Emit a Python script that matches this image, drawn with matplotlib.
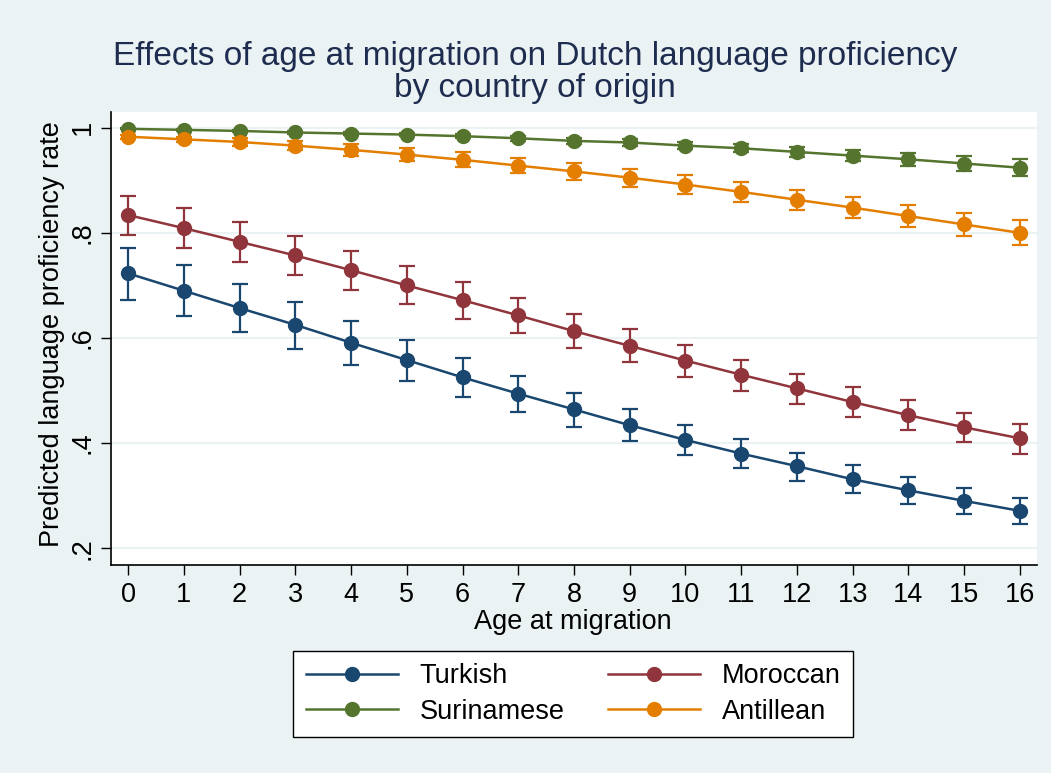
import matplotlib
matplotlib.use("Agg")
import matplotlib.pyplot as plt

plt.rcParams['font.family'] = ['Liberation Sans', 'DejaVu Sans']

ages = list(range(0, 17))

turkish = [0.723, 0.690, 0.657, 0.625, 0.591, 0.558, 0.525, 0.494, 0.464, 0.434, 0.406, 0.380, 0.356, 0.331, 0.310, 0.290, 0.271]
turkish_lo = [0.672, 0.642, 0.611, 0.579, 0.549, 0.518, 0.488, 0.459, 0.431, 0.404, 0.377, 0.352, 0.328, 0.305, 0.284, 0.265, 0.246]
turkish_hi = [0.772, 0.738, 0.703, 0.668, 0.633, 0.597, 0.562, 0.528, 0.496, 0.465, 0.434, 0.408, 0.381, 0.358, 0.335, 0.314, 0.295]

moroccan = [0.834, 0.809, 0.783, 0.757, 0.729, 0.700, 0.672, 0.643, 0.613, 0.585, 0.557, 0.530, 0.504, 0.478, 0.453, 0.430, 0.409]
moroccan_lo = [0.796, 0.772, 0.745, 0.719, 0.691, 0.664, 0.636, 0.609, 0.581, 0.554, 0.526, 0.500, 0.474, 0.450, 0.425, 0.403, 0.380]
moroccan_hi = [0.871, 0.847, 0.821, 0.794, 0.765, 0.737, 0.706, 0.676, 0.646, 0.617, 0.587, 0.559, 0.532, 0.506, 0.482, 0.458, 0.436]

surinamese = [0.998, 0.996, 0.994, 0.991, 0.989, 0.987, 0.984, 0.980, 0.975, 0.972, 0.966, 0.961, 0.954, 0.947, 0.940, 0.932, 0.924]
surinamese_lo = [0.997, 0.9945, 0.992, 0.989, 0.986, 0.984, 0.980, 0.975, 0.970, 0.966, 0.959, 0.953, 0.945, 0.936, 0.928, 0.918, 0.908]
surinamese_hi = [0.999, 0.9975, 0.996, 0.993, 0.992, 0.990, 0.988, 0.985, 0.980, 0.978, 0.973, 0.969, 0.963, 0.958, 0.952, 0.946, 0.940]

antillean = [0.983, 0.978, 0.973, 0.966, 0.958, 0.949, 0.939, 0.928, 0.917, 0.905, 0.892, 0.878, 0.863, 0.848, 0.832, 0.816, 0.800]
antillean_lo = [0.979, 0.973, 0.966, 0.957, 0.947, 0.936, 0.925, 0.913, 0.901, 0.888, 0.874, 0.859, 0.844, 0.828, 0.811, 0.794, 0.776]
antillean_hi = [0.987, 0.983, 0.980, 0.975, 0.969, 0.962, 0.953, 0.943, 0.933, 0.922, 0.910, 0.897, 0.882, 0.868, 0.853, 0.838, 0.824]

y_ticks = [0.2, 0.4, 0.6, 0.8, 1.0]
y_tick_labels = ['.2', '.4', '.6', '.8', '1']

series = [
    ("Turkish", turkish, turkish_lo, turkish_hi, "#1a476f"),
    ("Moroccan", moroccan, moroccan_lo, moroccan_hi, "#90353b"),
    ("Surinamese", surinamese, surinamese_lo, surinamese_hi, "#55752f"),
    ("Antillean", antillean, antillean_lo, antillean_hi, "#e37e00"),
]

FS = 19.5
bg = "#eaf2f3"
fig = plt.figure(figsize=(10.51, 7.73), dpi=100, facecolor=bg)
ax = fig.add_axes([111/1051, 1-565/773, (1037-111)/1051, (565-112)/773])
ax.set_facecolor("white")

handles = {}
for name, est, lo, hi, col in series:
    yerr = [[e - l for e, l in zip(est, lo)], [h - e for e, h in zip(est, hi)]]
    ax.errorbar(ages, est, yerr=yerr, fmt='none', ecolor=col, elinewidth=1.6,
                capsize=5.5, capthick=1.6, zorder=3)
    ln, = ax.plot(ages, est, color=col, lw=1.8, marker='o', markersize=10,
                  markerfacecolor=col, markeredgecolor=col, zorder=4)
    handles[name] = ln

ax.set_xlim(-0.305, 16.305)
ax.set_ylim(0.168, 1.030)
ax.set_xticks(ages)
ax.set_xticklabels([str(a) for a in ages])
ax.set_yticks(y_ticks)
ax.set_yticklabels(y_tick_labels, rotation=90, va='center')

for y in y_ticks:
    ax.axhline(y, color=bg, lw=1.5, zorder=1)

for s in ['top', 'right']:
    ax.spines[s].set_visible(False)
for s in ['left', 'bottom']:
    ax.spines[s].set_linewidth(1.2)
    ax.spines[s].set_color('black')

ax.tick_params(axis='both', direction='out', length=7, width=1.0, labelsize=FS, colors='black')
ax.tick_params(axis='x', pad=5)
ax.tick_params(axis='y', pad=4)

fig.text(52/1051, 1-334/773, "Predicted language proficiency rate", rotation=90,
         ha='center', va='center', fontsize=FS)
fig.text(573/1051, 1-622/773, "Age at migration", ha='center', va='center', fontsize=FS)

fig.text(535/1051, 1-56/773, "Effects of age at migration on Dutch language proficiency",
         ha='center', va='center', fontsize=24, color="#1e2d4f")
fig.text(535/1051, 1-89/773, "by country of origin",
         ha='center', va='center', fontsize=24, color="#1e2d4f")

# matplotlib fills legend columns first: order so rows read Turkish/Moroccan, Surinamese/Antillean
order = ["Turkish", "Surinamese", "Moroccan", "Antillean"]
leg = fig.legend([handles[n] for n in order], order, ncol=2,
                 loc='center', bbox_to_anchor=(573/1051, 1-694/773),
                 fontsize=FS, frameon=True, fancybox=False, edgecolor='black',
                 facecolor='white', framealpha=1, handlelength=3.4,
                 columnspacing=1.6, handletextpad=0.8, labelspacing=0.35,
                 borderpad=0.45)
leg.get_frame().set_linewidth(1.0)

fig.savefig("out.png", dpi=100, facecolor=bg)
